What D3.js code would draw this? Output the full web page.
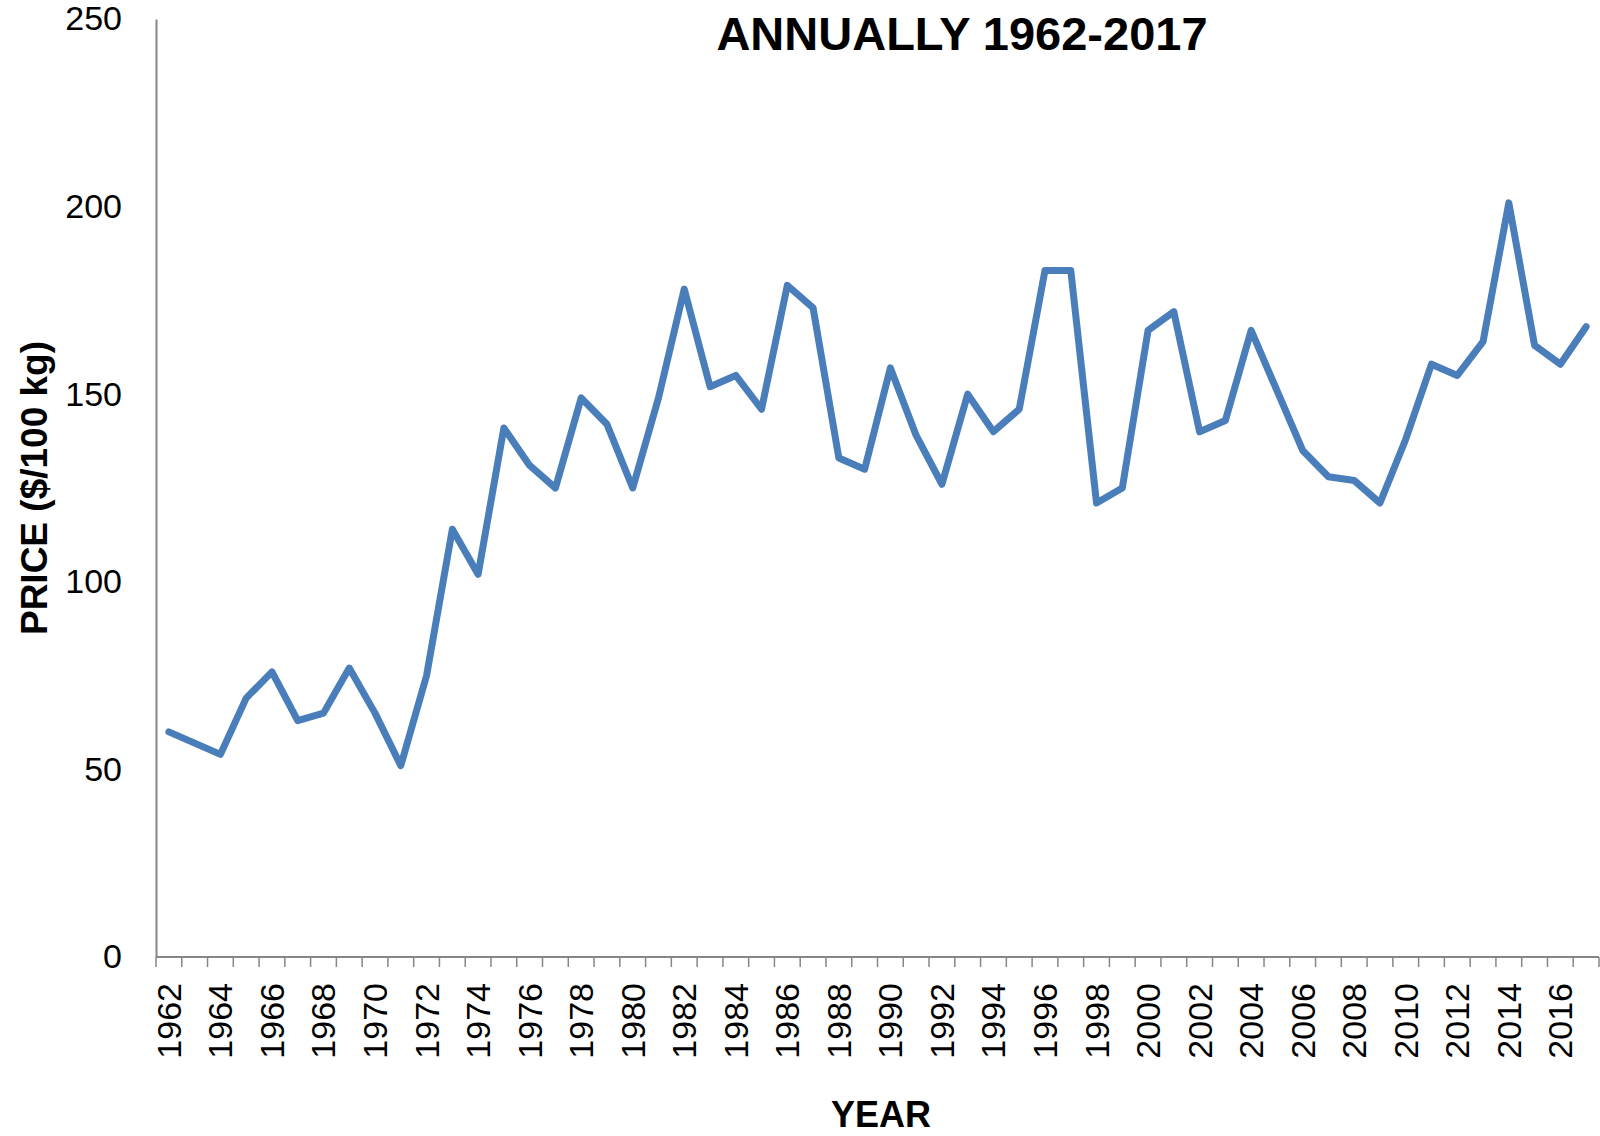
<!DOCTYPE html>
<html>
<head>
<meta charset="utf-8">
<script src="https://cdn.jsdelivr.net/npm/d3@7"></script>
<style>
	html, body { margin: 0; padding: 0; background: #fff; }
	svg { display: block; font-family: "Liberation Sans", Arial, sans-serif; }
</style>
</head>
<body>
<div id="chart"></div>
<script>
	const years = d3.range(1962, 2018);
	const prices = [
		60, 57, 54, 69, 76, 63, 65, 77, 65, 51,
		75, 114, 102, 141, 131, 125, 149, 142, 125, 149,
		178, 152, 155, 146, 179, 173, 133, 130, 157, 139,
		126, 150, 140, 146, 183, 183, 121, 125, 167, 172,
		140, 143, 167, 151, 135, 128, 127, 121, 138, 158,
		155, 164, 201, 163, 158, 168
	];
	const yTicks = [0, 50, 100, 150, 200, 250];
	const labelYears = years.filter(function(d) { return (d - 1962) % 2 === 0; });

	const chartTitle = 'ANNUALLY 1962-2017';
	const yTitle = 'PRICE ($/100 kg)';
	const xTitle = 'YEAR';

	const width = 1600, height = 1136;
	const margin = { top: 19, right: 1, bottom: 179, left: 156 };
	const lineColor = '#4a7ebb';
	const axisColor = '#868686';

	const svg = d3.select('#chart').append('svg')
		.attr('width', width)
		.attr('height', height);

	const x = d3.scaleBand()
		.domain(years)
		.range([margin.left, width - margin.right]);

	const y = d3.scaleLinear()
		.domain([0, 250])
		.range([height - margin.bottom, margin.top]);

	// y axis: line only, labels on the left
	const yAxis = svg.append('g')
		.attr('transform', 'translate(' + margin.left + ',0)')
		.call(d3.axisLeft(y).tickValues(yTicks).tickSize(0).tickPadding(34));
	yAxis.select('.domain').attr('stroke', axisColor).attr('stroke-width', 2);
	yAxis.selectAll('.tick text')
		.style('font-size', '34px')
		.attr('fill', '#000');

	// x axis: ticks between categories, rotated labels every other year
	const xAxisG = svg.append('g')
		.attr('transform', 'translate(0,' + (height - margin.bottom) + ')');
	xAxisG.append('line')
		.attr('x1', margin.left)
		.attr('x2', width - margin.right)
		.attr('stroke', axisColor)
		.attr('stroke-width', 2);
	const boundaries = years.map(function(d) { return x(d); }).concat([x(years[years.length - 1]) + x.bandwidth()]);
	xAxisG.selectAll('line.tick')
		.data(boundaries)
		.enter().append('line')
		.attr('class', 'tick')
		.attr('x1', function(d) { return d; })
		.attr('x2', function(d) { return d; })
		.attr('y1', 0)
		.attr('y2', 10)
		.attr('stroke', axisColor)
		.attr('stroke-width', 1.5);
	xAxisG.selectAll('text.label')
		.data(labelYears)
		.enter().append('text')
		.attr('class', 'label')
		.attr('transform', function(d) {
			return 'translate(' + (x(d) + x.bandwidth() / 2) + ',26) rotate(-90)';
		})
		.attr('text-anchor', 'end')
		.attr('dominant-baseline', 'central')
		.style('font-size', '34px')
		.text(function(d) { return d; });

	// Line
	const line = d3.line()
		.x(function(d, i) { return x(years[i]) + x.bandwidth() / 2; })
		.y(function(d) { return y(d); });

	svg.append('path')
		.datum(prices)
		.attr('d', line)
		.attr('fill', 'none')
		.attr('stroke', lineColor)
		.attr('stroke-width', 7)
		.attr('stroke-linejoin', 'round')
		.attr('stroke-linecap', 'round');

	// Titles
	svg.append('text')
		.attr('x', 962)
		.attr('y', 50)
		.attr('text-anchor', 'middle')
		.style('font-size', '47px')
		.style('font-weight', 'bold')
		.text(chartTitle);

	svg.append('text')
		.attr('transform', 'translate(47,488) rotate(-90)')
		.attr('text-anchor', 'middle')
		.style('font-size', '37px')
		.style('font-weight', 'bold')
		.text(yTitle);

	svg.append('text')
		.attr('x', 881)
		.attr('y', 1127)
		.attr('text-anchor', 'middle')
		.style('font-size', '36px')
		.style('font-weight', 'bold')
		.text(xTitle);
</script>
</body>
</html>
